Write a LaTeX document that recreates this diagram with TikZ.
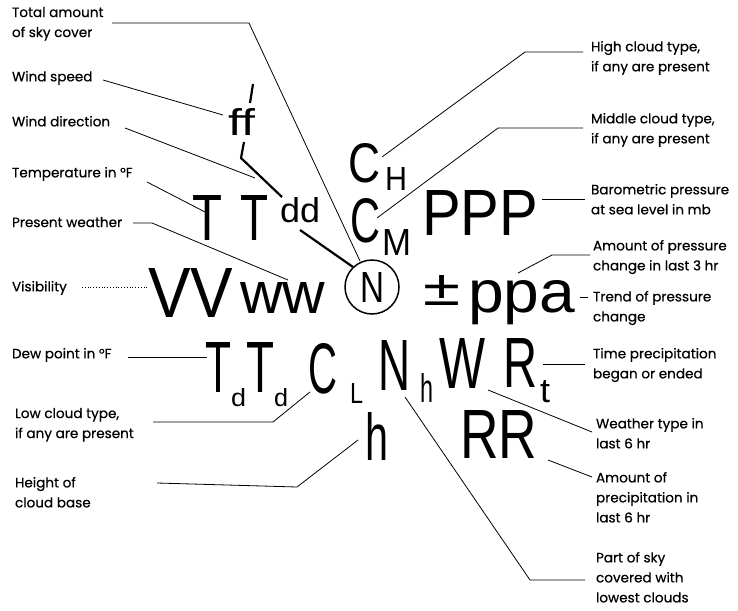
\documentclass[tikz,border=0pt]{standalone}
\usepackage{fontspec}
\usepackage{graphicx}
\newfontfamily\labfont{Poppins}[FakeBold=0.5]
\newfontfamily\symfont{Liberation Sans}
\newcommand\symb[3]{\resizebox{#1pt}{#2pt}{\symfont #3}}
\begin{document}
\begin{tikzpicture}[x=1pt,y=-1pt,
  lab/.style={inner sep=0pt,outer sep=0pt,align=left,anchor=north west,font=\labfont\fontsize{13.6}{20}\selectfont},
  sy/.style={inner sep=0pt,outer sep=0pt,anchor=base west},
  conn/.style={line width=0.8pt},
  heavy/.style={line width=2.2pt}]
\useasboundingbox (0,0) rectangle (738,610);
% ---------- left labels
\node[lab] (lTotal) at (12,7) {Total amount\\of sky cover};
\node[lab] (lWspd) at (12,71) {Wind speed};
\node[lab] (lWdir) at (12,116) {Wind direction};
\node[lab] (lTemp) at (12,167) {Temperature in °F};
\node[lab] (lPres) at (12,217) {Present weather};
\node[lab] (lVis) at (12,281) {Visibility};
\node[lab] (lDew) at (12,348) {Dew point in °F};
\node[lab] (lLow) at (15,408) {Low cloud type,\\if any are present};
\node[lab] (lHgt) at (15,477) {Height of\\cloud base};
% ---------- right labels
\node[lab] (rHigh) at (591,41) {High cloud type,\\if any are present};
\node[lab] (rMid) at (591,113) {Middle cloud type,\\if any are present};
\node[lab] (rBar) at (591,184) {Barometric pressure\\at sea level in mb};
\node[lab] (rAmt) at (593,240) {Amount of pressure\\change in last 3 hr};
\node[lab] (rTrend) at (593,291) {Trend of pressure\\change};
\node[lab] (rTime) at (593,348) {Time precipitation\\began or ended};
\node[lab] (rWx) at (596,418) {Weather type in\\last 6 hr};
\node[lab] (rPrecip) at (596,472) {Amount of\\precipitation in\\last 6 hr};
\node[lab] (rSky) at (596,552) {Part of sky\\covered with\\lowest clouds};
% ---------- symbols
\node[sy] (ff) at (228,135) {\symb{27}{27}{ff}};
\node[sy] (T1) at (192,240) {\symb{30}{45}{T}};
\node[sy] (T2) at (240,240) {\symb{28}{45}{T}};
\node[sy] (dd) at (280,222) {\symb{40}{25}{dd}};
\node[draw,circle,line width=1.5pt,minimum size=54pt,inner sep=0pt] (circ) at (372,287) {};
\node[inner sep=0pt] (N0) at (372,287) {\symb{24}{30}{N}};
\node[sy] (VV) at (148,317) {\symb{85}{49}{VV}};
\node[sy] (ww) at (240,313) {\symb{85}{31}{ww}};
\node[sy] (pm) at (423,305) {\symb{37}{30}{±}};
\node[sy] (ppa) at (468,312) {\symb{107}{32}{ppa}};
\node[sy] (CH) at (348,182) {\symb{32}{39}{C}};
\node[sy] (Hs) at (385,190) {\symb{22}{23}{H}};
\node[sy] (CM) at (350,242) {\symb{30}{44}{C}};
\node[sy] (Ms) at (382,255) {\symb{29}{26}{M}};
\node[sy] (PPP) at (422,235) {\symb{116}{45}{PPP}};
\node[sy] (Td1) at (205,392) {\symb{26}{50}{T}};
\node[sy] (ds1) at (231,406) {\symb{15}{18}{d}};
\node[sy] (Td2) at (246,392) {\symb{28}{50}{T}};
\node[sy] (ds2) at (274,406) {\symb{14}{18}{d}};
\node[sy] (CL) at (308,393) {\symb{29}{50}{C}};
\node[sy] (Ls) at (350,403) {\symb{13}{20}{L}};
\node[sy] (Nh) at (378,390) {\symb{32}{50}{N}};
\node[sy] (hs) at (420,402) {\symb{13}{29}{h}};
\node[sy] (W) at (439,388) {\symb{46}{50}{W}};
\node[sy] (R) at (503,387) {\symb{34}{49}{R}};
\node[sy] (ts) at (540,402) {\symb{10}{22}{t}};
\node[sy] (hbig) at (365,460) {\symb{23}{48}{h}};
\node[sy] (RR) at (460,458) {\symb{77}{48}{RR}};
% ---------- wind barb marks
\coordinate (sl1) at (253,84); \coordinate (sl2) at (250,103);
\draw[heavy] (sl1) -- (sl2);
\coordinate (b1) at (244,142); \coordinate (b2) at (241,158); \coordinate (b3) at (282,197);
\draw[heavy,line join=round] (b1) -- (b2) -- (b3);
\coordinate (dA) at (300,230); \coordinate (dB) at (353,267);
\draw[heavy] (dA) -- (dB);
% ---------- left connectors
\coordinate (a1) at (112,23); \coordinate (a2) at (249,23); \coordinate (a3) at (360,261);
\draw[conn] (a1) -- (a2) -- (a3);
\coordinate (c1) at (103,80); \coordinate (c2) at (223,115);
\draw[conn] (c1) -- (c2);
\coordinate (e1) at (125,128); \coordinate (e2) at (255,178);
\draw[conn] (e1) -- (e2);
\coordinate (g1) at (147,182); \coordinate (g2) at (205,212);
\draw[conn] (g1) -- (g2);
\coordinate (p1) at (133,223); \coordinate (p2) at (152,223); \coordinate (p3) at (288,280);
\draw[conn] (p1) -- (p2) -- (p3);
\coordinate (v1) at (82,287); \coordinate (v2) at (148,287);
\draw[conn,dotted] (v1) -- (v2);
\coordinate (w1) at (128,357); \coordinate (w2) at (207,357);
\draw[conn] (w1) -- (w2);
\coordinate (k1) at (153,422); \coordinate (k2) at (273,422); \coordinate (k3) at (310,392);
\draw[conn] (k1) -- (k2) -- (k3);
\coordinate (m1) at (157,483); \coordinate (m2) at (297,487); \coordinate (m3) at (358,440);
\draw[conn] (m1) -- (m2) -- (m3);
% ---------- right connectors
\coordinate (r1a) at (583,52); \coordinate (r1b) at (525,52); \coordinate (r1c) at (382,157);
\draw[conn] (r1a) -- (r1b) -- (r1c);
\coordinate (r2a) at (583,128); \coordinate (r2b) at (498,128); \coordinate (r2c) at (377,218);
\draw[conn] (r2a) -- (r2b) -- (r2c);
\coordinate (r3a) at (542,199); \coordinate (r3b) at (585,199);
\draw[conn] (r3a) -- (r3b);
\coordinate (r4a) at (590,255); \coordinate (r4b) at (552,255); \coordinate (r4c) at (518,273);
\draw[conn] (r4a) -- (r4b) -- (r4c);
\coordinate (r5a) at (580,297); \coordinate (r5b) at (588,297);
\draw[conn] (r5a) -- (r5b);
\coordinate (r6a) at (543,364); \coordinate (r6b) at (585,364);
\draw[conn] (r6a) -- (r6b);
\coordinate (r7a) at (488,390); \coordinate (r7b) at (592,432);
\draw[conn] (r7a) -- (r7b);
\coordinate (r8a) at (548,460); \coordinate (r8b) at (592,477);
\draw[conn] (r8a) -- (r8b);
\coordinate (r9a) at (405,397); \coordinate (r9b) at (530,580); \coordinate (r9c) at (585,580);
\draw[conn] (r9a) -- (r9b) -- (r9c);
\end{tikzpicture}
\end{document}
